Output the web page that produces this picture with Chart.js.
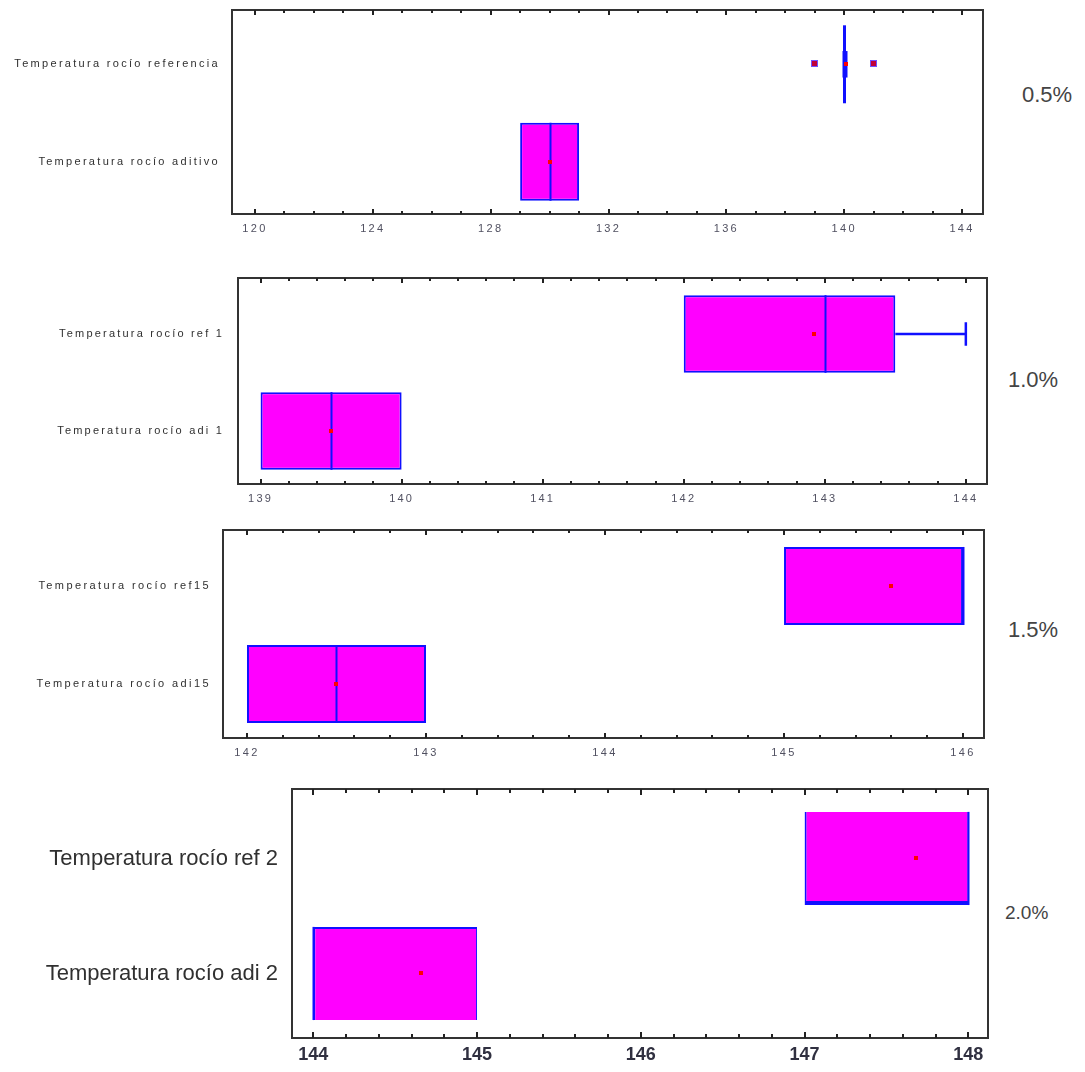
<!DOCTYPE html>
<html>
<head>
<meta charset="utf-8">
<script src="https://cdn.jsdelivr.net/npm/chart.js@4/dist/chart.umd.min.js"></script>
<style>
  html, body { margin: 0; padding: 0; background: #fff; width: 1085px; height: 1072px; overflow: hidden; }
  .panel { position: absolute; left: 0; }
  .pct { position: absolute; font-family: "Liberation Sans", Arial, sans-serif; color: #444; line-height: 1; }
</style>
</head>
<body>
<div class="panel" style="top:0px"><canvas id="c05" width="1000" height="245"></canvas></div>
<div class="panel" style="top:268px"><canvas id="c10" width="1000" height="247"></canvas></div>
<div class="panel" style="top:520px"><canvas id="c15" width="1000" height="249"></canvas></div>
<div class="panel" style="top:779px"><canvas id="c20" width="1000" height="293"></canvas></div>

<div class="pct" style="left:1022px; top:84px; font-size:22px;">0.5%</div>
<div class="pct" style="left:1008px; top:369px; font-size:22px;">1.0%</div>
<div class="pct" style="left:1008px; top:619px; font-size:22px;">1.5%</div>
<div class="pct" style="left:1005px; top:903px; font-size:19px;">2.0%</div>

<script>
// ---- 0.5 % additive ----
const cats05 = ['Temperatura rocío referencia', 'Temperatura rocío aditivo'];
const q1_05 = [140, 129];
const q3_05 = [140, 131];
const med05 = [140, 130];
const mean05 = [140.05, 130.03];
const whLo05 = [140, 129];
const whHi05 = [140, 131];
const out05 = [[139, 141], []];
const ticks05 = [120, 124, 128, 132, 136, 140, 144];

// ---- 1.0 % additive ----
const cats10 = ['Temperatura rocío ref 1', 'Temperatura rocío adi 1'];
const q1_10 = [142, 139];
const q3_10 = [143.5, 140];
const med10 = [143, 139.5];
const mean10 = [142.92, 139.5];
const whLo10 = [142, 139];
const whHi10 = [144, 140];
const out10 = [[], []];
const ticks10 = [139, 140, 141, 142, 143, 144];

// ---- 1.5 % additive ----
const cats15 = ['Temperatura rocío ref15', 'Temperatura rocío adi15'];
const q1_15 = [145, 142];
const q3_15 = [146, 143];
const med15 = [146, 142.5];
const mean15 = [145.6, 142.5];
const whLo15 = [145, 142];
const whHi15 = [146, 143];
const out15 = [[], []];
const ticks15 = [142, 143, 144, 145, 146];

// ---- 2.0 % additive ----
const cats20 = ['Temperatura rocío ref 2', 'Temperatura rocío adi 2'];
const q1_20 = [147, 144];
const q3_20 = [148, 145];
const med20 = [148, 144];
const mean20 = [147.68, 144.66];
const whLo20 = [147, 144];
const whHi20 = [148, 145];
const out20 = [[], []];
const ticks20 = [144, 145, 146, 147, 148];

const MAGENTA = '#ff00ff';
const BLUE = '#1010ff';
const FRAME = '#333333';

// Draws medians, whiskers, means and outliers over the floating bars,
// then the framed plot box with inward major/minor tick marks.
const boxPlot = {
  id: 'boxPlot',
  beforeDraw(chart, args, o) {
    chart.ctx.letterSpacing = o.spacing || '0px';
  },
  afterDatasetsDraw(chart, args, o) {
    const ctx = chart.ctx;
    const xs = chart.scales.x;
    const bars = chart.getDatasetMeta(0).data;
    ctx.save();
    bars.forEach((bar, i) => {
      const yc = bar.y;
      const h = bar.height;
      const top = yc - h / 2, bot = yc + h / 2;
      const px = v => xs.getPixelForValue(v);
      ctx.strokeStyle = BLUE;
      // whiskers
      ctx.lineWidth = 2.5;
      const capH = h * 0.15;
      if (o.whHi[i] > o.q3[i]) {
        ctx.beginPath();
        ctx.moveTo(px(o.q3[i]), yc); ctx.lineTo(px(o.whHi[i]), yc);
        ctx.moveTo(px(o.whHi[i]), yc - capH); ctx.lineTo(px(o.whHi[i]), yc + capH);
        ctx.stroke();
      }
      if (o.whLo[i] < o.q1[i]) {
        ctx.beginPath();
        ctx.moveTo(px(o.q1[i]), yc); ctx.lineTo(px(o.whLo[i]), yc);
        ctx.moveTo(px(o.whLo[i]), yc - capH); ctx.lineTo(px(o.whLo[i]), yc + capH);
        ctx.stroke();
      }
      // median
      const flat = o.q1[i] === o.q3[i];
      ctx.lineWidth = flat ? 3 : 2;
      ctx.beginPath();
      ctx.moveTo(Math.round(px(o.med[i])) + 0.5, top);
      ctx.lineTo(Math.round(px(o.med[i])) + 0.5, bot);
      ctx.stroke();
      if (flat) {
        ctx.lineWidth = 5;
        ctx.beginPath();
        ctx.moveTo(Math.round(px(o.med[i])) + 1, yc - h * 0.17);
        ctx.lineTo(Math.round(px(o.med[i])) + 1, yc + h * 0.17);
        ctx.stroke();
      }
      // mean
      ctx.fillStyle = '#ff0000';
      ctx.fillRect(Math.round(px(o.mean[i])) - 2, Math.round(yc) - 2, 4, 4);
      // outliers
      (o.outliers[i] || []).forEach(v => {
        const ox = Math.round(px(v));
        ctx.fillStyle = '#7050ff';
        ctx.fillRect(ox - 4, Math.round(yc) - 4, 7, 7);
        ctx.fillStyle = '#c0003a';
        ctx.fillRect(ox - 3, Math.round(yc) - 3, 5, 5);
      });
    });
    ctx.restore();
  },
  afterDraw(chart, args, o) {
    const ctx = chart.ctx;
    const a = chart.chartArea;
    const xs = chart.scales.x;
    ctx.save();
    ctx.strokeStyle = FRAME;
    ctx.lineWidth = 2;
    ctx.strokeRect(a.left, a.top, a.right - a.left, a.bottom - a.top);
    ctx.lineWidth = 2;
    ctx.strokeStyle = '#222';
    const majors = o.ticks;
    const start = Math.ceil(xs.min / o.minor - 1e-9);
    const end = Math.floor(xs.max / o.minor + 1e-9);
    for (let k = start; k <= end; k++) {
      const v = +(k * o.minor).toFixed(6);
      const isMajor = majors.some(m => Math.abs(m - v) < 1e-6);
      const len = isMajor ? o.majorLen : o.minorLen;
      const x = Math.round(xs.getPixelForValue(v));
      ctx.beginPath();
      ctx.moveTo(x, a.bottom); ctx.lineTo(x, a.bottom - len);
      ctx.moveTo(x, a.top); ctx.lineTo(x, a.top + len);
      ctx.stroke();
    }
    ctx.restore();
    ctx.letterSpacing = '0px';
  }
};

function noScalePadding(s) {
  s.paddingTop = 0; s.paddingBottom = 0; s.paddingLeft = 0; s.paddingRight = 0;
}

function makePanel(id, cfg) {
  // one row per group: index 0 on top, index 1 below
  const data = cfg.q1.map((v, i) => ({ x: [v, cfg.q3[i]], y: i }));
  return new Chart(document.getElementById(id), {
    type: 'bar',
    data: {
      datasets: [{
        data: data,
        backgroundColor: MAGENTA,
        borderColor: BLUE,
        borderWidth: cfg.borderWidth || 2,
        borderSkipped: false,
        categoryPercentage: 1,
        barPercentage: cfg.barPct
      }]
    },
    plugins: [boxPlot],
    options: {
      indexAxis: 'y',
      responsive: false,
      animation: false,
      devicePixelRatio: 1,
      layout: { padding: { top: 10, right: cfg.padRight, left: 0, bottom: 0 } },
      plugins: {
        legend: { display: false },
        tooltip: { enabled: false },
        boxPlot: {
          q1: cfg.q1, q3: cfg.q3, med: cfg.med, mean: cfg.mean,
          whLo: cfg.whLo, whHi: cfg.whHi, outliers: cfg.outliers,
          ticks: cfg.ticks, minor: cfg.minor,
          majorLen: cfg.majorLen || 5, minorLen: cfg.minorLen || 3,
          spacing: cfg.spacing
        }
      },
      scales: {
        x: {
          type: 'linear',
          min: cfg.min, max: cfg.max,
          grid: { display: false, drawTicks: false },
          border: { display: false },
          afterBuildTicks: s => { s.ticks = cfg.ticks.map(v => ({ value: v })); },
          afterFit: s => { s.height = cfg.xH; noScalePadding(s); },
          ticks: {
            padding: cfg.xPad,
            color: cfg.xColor || '#505060',
            maxRotation: 0,
            autoSkip: false,
            font: { family: '"Liberation Sans", Arial, sans-serif', size: cfg.xSize, weight: cfg.xWeight || 'normal' }
          }
        },
        y: {
          type: 'linear',
          reverse: true,
          offset: false,
          min: cfg.yMin, max: cfg.yMax,
          grid: { display: false, drawTicks: false, offset: false },
          border: { display: false },
          afterBuildTicks: s => { s.ticks = cfg.cats.map((c, i) => ({ value: i })); },
          afterFit: s => { s.width = cfg.yW; noScalePadding(s); },
          ticks: {
            padding: cfg.yPad,
            color: '#303030',
            callback: v => cfg.cats[v],
            font: { family: '"Liberation Sans", Arial, sans-serif', size: cfg.ySize }
          }
        }
      }
    }
  });
}

makePanel('c05', {
  cats: cats05, q1: q1_05, q3: q3_05, med: med05, mean: mean05, whLo: whLo05, whHi: whHi05, outliers: out05,
  ticks: ticks05, minor: 1, min: 119.22, max: 144.71, yMin: -0.557, yMax: 1.536,
  barPct: 0.80, padRight: 17, yW: 232, xH: 31, xPad: 8, yPad: 12, xSize: 11, ySize: 11, spacing: '2.3px'
});
makePanel('c10', {
  cats: cats10, q1: q1_10, q3: q3_10, med: med10, mean: mean10, whLo: whLo10, whHi: whHi10, outliers: out10,
  ticks: ticks10, minor: 0.2, min: 138.84, max: 144.15, yMin: -0.577, yMax: 1.546,
  barPct: 0.80, padRight: 13, yW: 238, xH: 31, xPad: 8, yPad: 14, xSize: 11, ySize: 11, spacing: '2.2px'
});
makePanel('c15', {
  cats: cats15, q1: q1_15, q3: q3_15, med: med15, mean: mean15, whLo: whLo15, whHi: whHi15, outliers: out15,
  ticks: ticks15, minor: 0.2, min: 141.866, max: 146.117, yMin: -0.571, yMax: 1.551,
  barPct: 0.796, padRight: 16, yW: 223, xH: 31, xPad: 8, yPad: 12, xSize: 11, ySize: 11, spacing: '2.4px'
});
makePanel('c20', {
  cats: cats20, q1: q1_20, q3: q3_20, med: med20, mean: mean20, whLo: whLo20, whHi: whHi20, outliers: out20,
  ticks: ticks20, minor: 0.2, min: 143.87, max: 148.12, yMin: -0.604, yMax: 1.561,
  barPct: 0.81, padRight: 12, yW: 292, xH: 34, xPad: 6, yPad: 14, xSize: 18, ySize: 22,
  xColor: '#303040', xWeight: 'bold',
  spacing: '0px', majorLen: 6, minorLen: 4,
  borderWidth: [
    { top: 0, right: 1, bottom: 4, left: 2 },
    { top: 2, right: 1, bottom: 0, left: 2 }
  ]
});
</script>
</body>
</html>
